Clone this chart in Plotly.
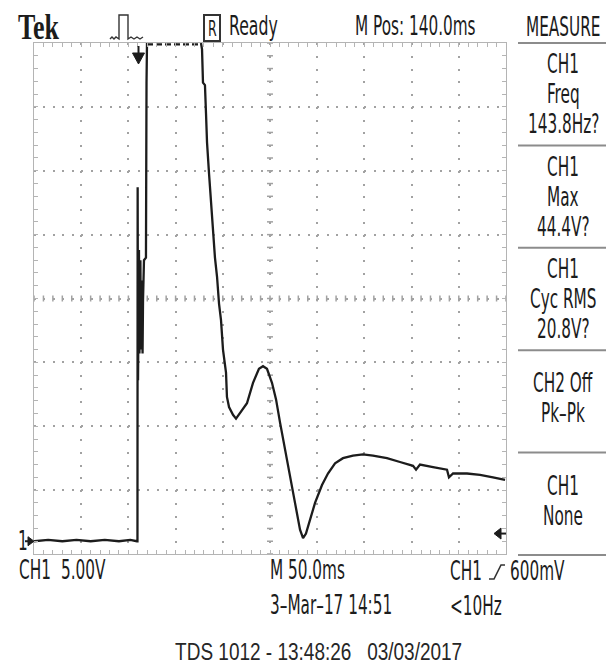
import json
import numpy as np
import plotly.graph_objects as go

# ---------------- acquisition settings (TDS 1012, CH1) ----------------
VOLTS_PER_DIV = 5.0
MS_PER_DIV = 50.0
H_DIVS, V_DIVS = 10, 8
M_POS_MS = 140.0              # screen centre relative to the trigger point
GROUND_DIVS = 0.2             # CH1 ground marker height above screen bottom
TRIGGER_LEVEL_V = 0.6

# ---------------- captured CH1 waveform (t = 0 at trigger) ----------------
time_ms = [
    -110, -95, -80, -65, -50, -35, -20, -8, -1.0,
    -0.4, -0.2, 0.2, 1.2, 1.7, 2.7, 3.3, 4.4, 5.0, 5.5, 6.5, 8.6, 8.8, 9.2,
    9.7, 20, 35, 50, 66.9,
    68.0, 69.0, 71.1, 72.2, 73.3, 75.4, 77.5, 79.6, 81.7, 83.9, 86.0, 88.1,
    88.8, 90.2, 93.4, 94.4, 96.6, 100.8, 104.0, 108.2, 115.6, 122.0, 128.3,
    132.6, 136.8, 142.1, 146.4, 150.6, 155.9, 161.2, 166.5, 171.8, 175.0,
    178.1, 182.4, 187.7, 195.1, 201.4, 208.9, 217.3, 227.9, 238.5, 249.1,
    263.9, 277.7, 291.5, 294.7, 298.9, 312.7, 327.5, 329.6, 333.9, 348.7,
    362.5, 376.2, 389.0,
]
ch1_volts = [
    0.0, 0.1, 0.0, 0.1, 0.0, 0.1, 0.0, 0.1, 0.0,
    0.0, 27.7, 12.6, 22.8, 14.7, 22.0, 15.0, 20.4, 14.7, 18.9, 22.0, 22.2, 34.4, 35.9,
    39.0, 39.0, 39.0, 39.0, 39.0,
    38.5, 35.9, 35.7, 33.5, 31.2, 28.8, 26.5, 24.1, 22.2, 20.7, 18.6, 17.3,
    16.5, 15.0, 13.2, 11.3, 10.5, 9.9, 9.6, 10.0, 10.8, 12.4, 13.5,
    13.7, 13.5, 12.4, 11.1, 9.3, 7.1, 5.0, 3.0, 0.9, 0.25,
    0.6, 1.7, 3.0, 4.4, 5.3, 6.1, 6.5, 6.7, 6.8, 6.7,
    6.5, 6.2, 5.9, 5.6, 6.0, 5.8, 5.6, 5.0, 5.3, 5.3,
    5.2, 5.0, 4.8,
]

# ---------------- on-screen readouts ----------------
header_left = "Tek"
header_state = "Ready"
header_mpos = "M Pos: 140.0ms"
measure_title = "MEASURE"
measure_rows = [
    ["CH1", "Freq", "143.8Hz?"],
    ["CH1", "Max", "44.4V?"],
    ["CH1", "Cyc RMS", "20.8V?"],
    ["CH2 Off", "Pk\u2013Pk"],
    ["CH1", "None"],
]
ch1_name_text = "CH1"
ch1_scale_text = "5.00V"
timebase_text = "M 50.0ms"
trig_src_text = "CH1"
trig_level_text = "600mV"
date_text = "3\u2013Mar\u201317 14:51"
trig_freq_text = "<10Hz"
footer_text = "TDS 1012 - 13:48:26\u00a0\u00a0\u00a003/03/2017"

# ---------------- derived scales ----------------
t_min = M_POS_MS - H_DIVS / 2 * MS_PER_DIV
t_max = M_POS_MS + H_DIVS / 2 * MS_PER_DIV
v_min = -GROUND_DIVS * VOLTS_PER_DIV
v_max = v_min + V_DIVS * VOLTS_PER_DIV

W, H = 609, 667
PL, PR, PT, PB = 34, 506, 43, 554          # graticule edges in page pixels
INK = "#1c1c1c"
GRID = "#a2a2a2"
FRAME = "#b4b4b4"
NARROW = "Liberation Sans Narrow, Arial Narrow, DejaVu Sans Condensed, Liberation Sans, sans-serif"
STATUS_SIZE = 17


def px(x):
    return (x - PL) / (PR - PL)


def py(y):
    return (PB - y) / (PB - PT)


t = np.array(time_ms, dtype=float)
v = np.array(ch1_volts, dtype=float)

# samples at/above the top of the screen are drawn as a dashed rail
over = v >= v_max
edge = over & (np.roll(~over, 1) | np.roll(~over, -1))
solid_v = np.where(over & ~edge, np.nan, v)
rail_v = np.where(over, v_max - 0.1, np.nan)

fig = go.Figure()
fig.add_trace(go.Scatter(x=t, y=solid_v, mode="lines",
                         line=dict(color=INK, width=2.3), hoverinfo="skip"))
fig.add_trace(go.Scatter(x=t, y=rail_v, mode="lines",
                         line=dict(color=INK, width=2.3, dash="6px,3px"), hoverinfo="skip"))

dot_v = (PB - PT) / (V_DIVS * 5)
dot_h = (PR - PL) / (H_DIVS * 5)

axis_common = dict(showticklabels=False, zeroline=False, showline=True,
                   linecolor=FRAME, linewidth=1, mirror="allticks",
                   ticks="inside", ticklen=4, tickcolor=FRAME, tickwidth=1,
                   showgrid=True, gridcolor=GRID, gridwidth=2, fixedrange=True)

fig.update_xaxes(range=[t_min, t_max], tick0=t_min, dtick=MS_PER_DIV,
                 griddash=f"2px,{dot_v - 2:.3f}px",
                 minor=dict(tick0=t_min, dtick=MS_PER_DIV / 5, ticks="inside",
                            ticklen=4, tickcolor=FRAME, showgrid=False),
                 **axis_common)
fig.update_yaxes(range=[v_min, v_max], tick0=v_min, dtick=VOLTS_PER_DIV,
                 griddash=f"2px,{dot_h - 2:.3f}px",
                 minor=dict(tick0=v_min, dtick=VOLTS_PER_DIV / 5, ticks="inside",
                            ticklen=4, tickcolor=FRAME, showgrid=False),
                 **axis_common)

shapes = []
# centre cross-hair minor marks
t_c = (t_min + t_max) / 2
v_c = (v_min + v_max) / 2
for tm in np.arange(t_min, t_max + 1e-9, MS_PER_DIV / 5):
    shapes.append(dict(type="line", xref="x", yref="y", ysizemode="pixel", yanchor=v_c,
                       x0=tm, x1=tm, y0=-3, y1=3, layer="between",
                       line=dict(color=GRID, width=1.5)))
for vm in np.arange(v_min, v_max + 1e-9, VOLTS_PER_DIV / 5):
    shapes.append(dict(type="line", xref="x", yref="y", xsizemode="pixel", xanchor=t_c,
                       x0=-3, x1=3, y0=vm, y1=vm, layer="between",
                       line=dict(color=GRID, width=1.5)))


def path(points, close=False):
    s = "M" + " L".join(f"{px(a):.5f},{py(b):.5f}" for a, b in points)
    return s + (" Z" if close else "")


icon_line = dict(color="#333333", width=1.4)
# trigger-type pulse icon
shapes.append(dict(type="path", xref="paper", yref="paper", line=icon_line,
                   path=path([(110, 39), (112, 37), (114, 39), (116, 37), (119, 39),
                              (119, 15), (128, 15), (128, 39), (131, 37), (134, 39),
                              (137, 37), (140, 39), (143, 37)])))
# "R" run-state box
shapes.append(dict(type="rect", xref="paper", yref="paper", x0=px(204), x1=px(220),
                   y0=py(41), y1=py(15), line=dict(color="#333333", width=2)))
# trigger position marker
shapes.append(dict(type="path", xref="paper", yref="paper", line=dict(color=INK, width=2),
                   path=path([(138.5, 46), (138.5, 54)])))
shapes.append(dict(type="path", xref="paper", yref="paper", line=dict(color=INK, width=1),
                   fillcolor=INK, path=path([(132.5, 53), (144.5, 53), (138.5, 64)], True)))
# trigger level marker (right edge)
lvl_y = PB - (TRIGGER_LEVEL_V - v_min) / (v_max - v_min) * (PB - PT)
shapes.append(dict(type="path", xref="paper", yref="paper", line=dict(color=INK, width=2),
                   path=path([(500, lvl_y), (506, lvl_y)])))
shapes.append(dict(type="path", xref="paper", yref="paper", line=dict(color=INK, width=1),
                   fillcolor=INK, path=path([(494, lvl_y), (501, lvl_y - 5.5), (501, lvl_y + 5.5)], True)))
# CH1 ground marker (left edge)
gnd_y = PB - (0 - v_min) / (v_max - v_min) * (PB - PT)
shapes.append(dict(type="path", xref="paper", yref="paper", line=dict(color=INK, width=2),
                   path=path([(25, gnd_y), (29, gnd_y)])))
shapes.append(dict(type="path", xref="paper", yref="paper", line=dict(color=INK, width=1),
                   fillcolor=INK, path=path([(28, gnd_y - 4.5), (34, gnd_y), (28, gnd_y + 4.5)], True)))
# rising-edge slope symbol in trigger readout
shapes.append(dict(type="path", xref="paper", yref="paper", line=dict(color="#333333", width=1.6),
                   path=path([(489, 579), (494, 579), (501, 565), (505, 565)])))
# MEASURE menu separators
sep_gap = (555 - 43) / len(measure_rows)
for i in range(len(measure_rows) + 1):
    ys = 43 + i * sep_gap
    shapes.append(dict(type="line", xref="paper", yref="paper", x0=px(518), x1=px(606),
                       y0=py(ys), y1=py(ys), line=dict(color="#8c8c8c", width=2)))

annotations = []
stretch = []


def label(text, x, y, size=STATUS_SIZE, anchor="left", family=NARROW, k=1.55, color=INK):
    annotations.append(dict(text=text, x=px(x), y=py(y), xref="paper", yref="paper",
                            xanchor=anchor, yanchor="middle", showarrow=False,
                            font=dict(family=family, size=size, color=color)))
    stretch.append(k)


label(f"<b>{header_left}</b>", 16, 28, 26, family="Liberation Serif, DejaVu Serif, serif", k=1.35)
label("R", 212, 28, 14, anchor="center")
label(header_state, 227, 26, 17.5)
label(header_mpos, 353, 26)
label(measure_title, 563, 27, anchor="center")
for i, rows in enumerate(measure_rows):
    top = 43 + i * sep_gap
    n = len(rows)
    for j, txt in enumerate(rows):
        y = top + sep_gap / 2 + (j - (n - 1) / 2) * 30
        if n == 2:
            y -= 3
        label(txt, 563, y, anchor="center")
label("1", 16, gnd_y)
label(ch1_name_text, 17, 570)
label(ch1_scale_text, 59, 570)
label(timebase_text, 268, 570)
label(trig_src_text, 448, 571)
label(trig_level_text, 508, 571)
label(date_text, 268, 605)
label(trig_freq_text, 448, 606)
label(footer_text, 318, 652, 19, anchor="center",
      family="Liberation Sans, Arial, sans-serif", k=1.3, color="#262626")

fig.update_layout(width=W, height=H, margin=dict(l=PL, r=W - PR, t=PT, b=H - PB, pad=0),
                  paper_bgcolor="white", plot_bgcolor="white", showlegend=False,
                  shapes=shapes, annotations=annotations)

# the scope's status font is tall and narrow: stretch each readout vertically
stretch_js = """
var gd = document.getElementById('{plot_id}');
var k = STRETCH;
gd.querySelectorAll('g.annotation').forEach(function (g) {
  var i = parseInt(g.getAttribute('data-index'), 10);
  var t = g.querySelector('text.annotation-text');
  if (!t || !k[i] || k[i] === 1) { return; }
  var b = t.getBBox();
  var cy = b.y + b.height / 2;
  t.setAttribute('transform', 'translate(0,' + cy + ') scale(1,' + k[i] + ') translate(0,' + (-cy) + ')');
});
""".replace("STRETCH", json.dumps(stretch))

fig.write_html("out.html", post_script=stretch_js, config={"displayModeBar": False})
